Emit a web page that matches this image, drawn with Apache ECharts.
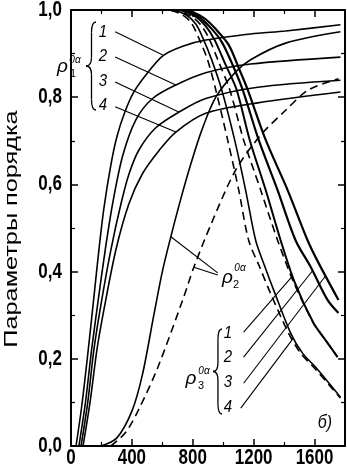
<!DOCTYPE html>
<html>
<head>
<meta charset="utf-8">
<script src="https://cdn.jsdelivr.net/npm/echarts@6/dist/echarts.min.js"></script>
<style>
  html, body { margin: 0; padding: 0; background: #fff; }
  #chart { width: 347px; height: 472px; }
</style>
</head>
<body>
<div id="chart"></div>
<script>
// axis ticks
const xTicks = [0, 400, 800, 1200, 1600];
const yTicks = [0, 0.2, 0.4, 0.6, 0.8, 1.0];

// rho1 0a, curves 1..4 (solid)
const rho1_1 = [[33,0],[70,0.09],[110,0.21],[150,0.34],[185,0.455],[216,0.545],[262,0.645],[302,0.71],[354,0.766],[413,0.812],[492,0.851],[603,0.895],[734,0.917],[885,0.931],[1180,0.945],[1410,0.952],[1770,0.966]];
const rho1_2 = [[52,0],[95,0.1],[135,0.22],[177,0.33],[225,0.45],[273,0.555],[339,0.665],[426,0.748],[536,0.797],[689,0.828],[885,0.856],[1180,0.876],[1770,0.892]];
const rho1_3 = [[66,0],[110,0.1],[150,0.22],[197,0.325],[262,0.45],[328,0.555],[382,0.625],[448,0.68],[557,0.73],[710,0.766],[885,0.797],[1226,0.823],[1770,0.839]];
const rho1_4 = [[79,0],[125,0.1],[170,0.22],[216,0.312],[295,0.45],[380,0.555],[470,0.625],[579,0.678],[689,0.72],[885,0.763],[1226,0.787],[1770,0.812]];

// rho2 0a, solid and dashed
const rho2_solid = [[197,0],[300,0.018],[400,0.08],[470,0.165],[544,0.3],[600,0.4],[656,0.48],[720,0.565],[790,0.65],[860,0.725],[951,0.8],[1082,0.858],[1180,0.886],[1410,0.924],[1770,0.95]];
const rho2_dash = [[262,0],[361,0.032],[459,0.094],[570,0.18],[734,0.335],[807,0.41],[918,0.507],[1082,0.633],[1246,0.713],[1410,0.77],[1561,0.817],[1757,0.842]];

// rho3 0a, falling curves
const rho3_d1 = [[400,1],[623,1],[721,0.991],[787,0.972],[839,0.936],[898,0.885],[951,0.817],[1029,0.702],[1102,0.587],[1167,0.472],[1240,0.41],[1311,0.35],[1429,0.259],[1508,0.213],[1593,0.181],[1770,0.11]];
const rho3_4 = [[400,1],[656,1],[754,0.989],[820,0.968],[866,0.936],[925,0.885],[990,0.817],[1075,0.702],[1147,0.587],[1213,0.472],[1275,0.41],[1331,0.358],[1443,0.259],[1521,0.213],[1606,0.181],[1770,0.112]];
const rho3_d2 = [[400,1],[669,1],[787,0.986],[852,0.966],[905,0.936],[970,0.881],[1043,0.817],[1134,0.702],[1246,0.587],[1357,0.472],[1462,0.376],[1593,0.282],[1672,0.243],[1751,0.204]];
const rho3_1 = [[400,1],[695,1],[813,0.986],[885,0.963],[944,0.931],[1016,0.874],[1088,0.817],[1174,0.702],[1279,0.587],[1377,0.472],[1469,0.376],[1593,0.282],[1672,0.243],[1751,0.204]];
const rho3_2 = [[400,1],[721,1],[839,0.984],[918,0.959],[990,0.927],[1062,0.874],[1128,0.817],[1233,0.702],[1357,0.587],[1475,0.472],[1574,0.411],[1685,0.335],[1757,0.305]];
const rho3_3 = [[400,1],[748,1],[872,0.982],[957,0.954],[1036,0.92],[1102,0.867],[1161,0.817],[1279,0.702],[1423,0.587],[1554,0.472],[1626,0.42],[1757,0.335]];

// leader lines from the labels to the curves (data coords)
const leaders = [
  [[290,0.950],[603,0.897]], [[290,0.892],[689,0.828]], [[290,0.835],[708,0.766]], [[290,0.778],[689,0.720]],
  [[964,0.397],[656,0.48]], [[964,0.392],[807,0.41]],
  [[1134,0.261],[1456,0.39]], [[1134,0.204],[1587,0.402]], [[1134,0.144],[1672,0.39]], [[1115,0.087],[1462,0.248]]
];

const FONT = '"Liberation Sans", Arial, sans-serif';
const chart = echarts.init(document.getElementById('chart'));

function curve(data, dashed, width) {
  return {
    type: 'line', data: data, showSymbol: false, symbol: 'none', silent: true,
    smooth: 0.3, animation: false,
    lineStyle: {color: '#000', width: width || 1.6, type: dashed ? [8, 5] : 'solid'}
  };
}

const series = [
  curve(rho1_1), curve(rho1_2), curve(rho1_3), curve(rho1_4),
  curve(rho2_solid), curve(rho2_dash, true),
  curve(rho3_d1, true), curve(rho3_4), curve(rho3_d2, true), curve(rho3_1, false, 2),
  curve(rho3_2, false, 2.2), curve(rho3_3, false, 2.2)
];
leaders.forEach(function (l) {
  series.push({type: 'line', data: l, symbol: 'none', silent: true, animation: false,
    lineStyle: {color: '#000', width: 1.1}});
});

function axisX(pos) {
  return {
    type: 'value', position: pos, min: 0, max: 1800, interval: 400,
    axisLine: {onZero: false, lineStyle: {color: '#000', width: 2}},
    axisTick: {inside: true, length: 7, lineStyle: {color: '#000', width: 1.5}},
    minorTick: {show: true, splitNumber: 2, length: 4, lineStyle: {color: '#000', width: 1.2}},
    axisLabel: {show: false}, splitLine: {show: false}
  };
}
function axisY(pos) {
  return {
    type: 'value', position: pos, min: 0, max: 1, interval: 0.2,
    axisLine: {onZero: false, lineStyle: {color: '#000', width: 2}},
    axisTick: {inside: true, length: 7, lineStyle: {color: '#000', width: 1.5}},
    minorTick: {show: true, splitNumber: 2, length: 4, lineStyle: {color: '#000', width: 1.2}},
    axisLabel: {show: false}, splitLine: {show: false}
  };
}

chart.setOption({
  animation: false,
  backgroundColor: '#fff',
  grid: {left: 71, right: 2, top: 10, bottom: 26},
  xAxis: [axisX('bottom'), axisX('top')],
  yAxis: [axisY('left'), axisY('right')],
  series: series
});

function txt(s, x, y, size, o) {
  o = o || {};
  return {
    type: 'text', x: x, y: y, silent: true,
    rotation: o.rot || 0, scaleX: o.sx || 1, scaleY: o.sy || 1,
    style: {
      text: s, fill: '#000',
      font: (o.italic ? 'italic ' : '') + (o.bold ? 'bold ' : '') + size + 'px ' + FONT,
      align: o.align || 'center', verticalAlign: 'middle',
      textAlign: o.align || 'center', textVerticalAlign: 'middle'
    }
  };
}
const stroke = {fill: null, stroke: '#000', lineWidth: 1.3};
function brace(x, y1, y2, w) {
  const ym = (y1 + y2) / 2, xm = x + w * 0.55, h = y2 - y1;
  return [
    {type: 'bezierCurve', silent: true, style: stroke,
      shape: {x1: x + w, y1: y1, cpx1: xm, cpy1: y1, x2: xm, y2: y1 + h * 0.12}},
    {type: 'line', silent: true, style: stroke,
      shape: {x1: xm, y1: y1 + h * 0.12, x2: xm, y2: ym - h * 0.1}},
    {type: 'bezierCurve', silent: true, style: stroke,
      shape: {x1: xm, y1: ym - h * 0.1, cpx1: xm, cpy1: ym, x2: x, y2: ym}},
    {type: 'bezierCurve', silent: true, style: stroke,
      shape: {x1: x, y1: ym, cpx1: xm, cpy1: ym, x2: xm, y2: ym + h * 0.1}},
    {type: 'line', silent: true, style: stroke,
      shape: {x1: xm, y1: ym + h * 0.1, x2: xm, y2: y2 - h * 0.12}},
    {type: 'bezierCurve', silent: true, style: stroke,
      shape: {x1: xm, y1: y2 - h * 0.12, cpx1: xm, cpy1: y2, x2: x + w, y2: y2}}
  ];
}

let g = [];
xTicks.forEach(function (v) {
  g.push(txt(String(v), chart.convertToPixel({xAxisIndex: 0}, v), 458, 17, {sy: 1.3, bold: true}));
});
yTicks.forEach(function (v) {
  g.push(txt(v.toFixed(1).replace('.', ','), 62, chart.convertToPixel({yAxisIndex: 0}, v), 17, {sy: 1.3, bold: true, align: 'right'}));
});
g.push(txt('Параметры порядка', 12, 229, 19, {rot: Math.PI / 2, sx: 1.33}));

// rho1 label
g.push(txt('ρ', 62.5, 67, 19, {italic: true}));
g.push(txt('0α', 75, 60, 10, {italic: true}));
g.push(txt('1', 73, 74, 11));
g = g.concat(brace(86, 22, 110, 10));
['1', '2', '3', '4'].forEach(function (s, i) {
  g.push(txt(s, 103, 32 + i * 24.5, 15, {italic: true, sy: 1.1}));
});
// rho2 label
g.push(txt('ρ', 227.5, 278, 19, {italic: true}));
g.push(txt('0α', 240, 268, 10, {italic: true}));
g.push(txt('2', 236, 285, 11));
// rho3 label
g.push(txt('ρ', 191, 379, 19, {italic: true}));
g.push(txt('0α', 204, 371, 10, {italic: true}));
g.push(txt('3', 201, 386, 11));
g = g.concat(brace(213, 329, 414, 9));
['1', '2', '3', '4'].forEach(function (s, i) {
  g.push(txt(s, 228, 333 + i * 24.7, 15, {italic: true, sy: 1.1}));
});
g.push(txt('б)', 325, 423, 16, {italic: true, sy: 1.1}));

chart.setOption({graphic: g});
</script>
</body>
</html>
